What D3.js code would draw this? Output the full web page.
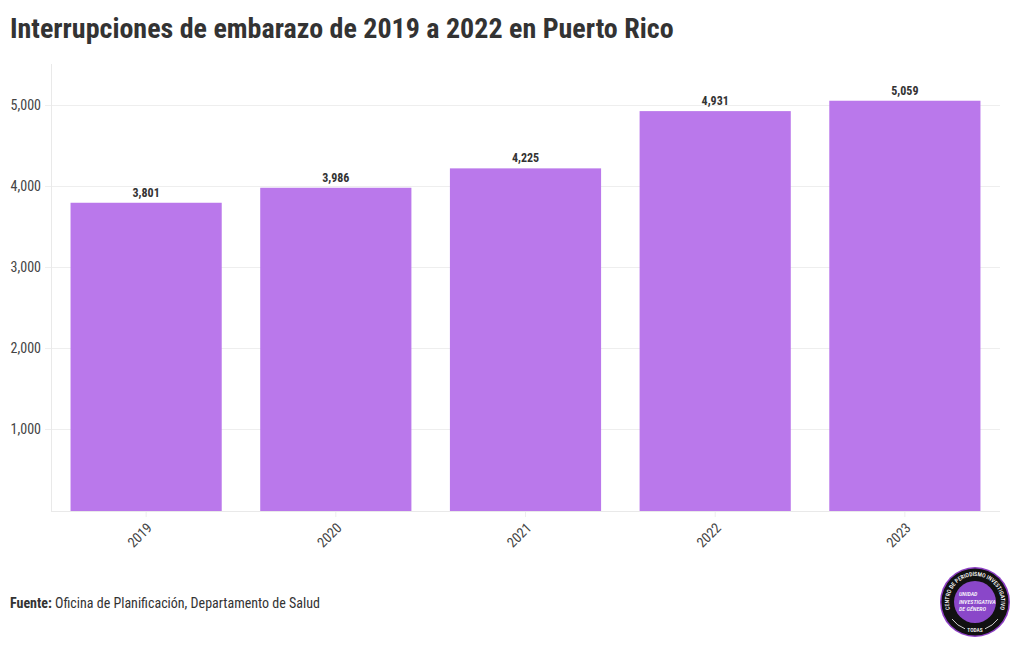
<!DOCTYPE html>
<html lang="es">
<head>
<meta charset="utf-8">
<title>Interrupciones de embarazo</title>
<script src="https://d3js.org/d3.v7.min.js"></script>
<style>
  html, body { margin: 0; background: #fff; }
  text { font-family: Roboto, sans-serif; font-stretch: condensed; }
</style>
</head>
<body>
<div id="chart"></div>
<script>
const years = ["2019", "2020", "2021", "2022", "2023"];
const abortions = [3801, 3986, 4225, 4931, 5059];
const yTicks = [1000, 2000, 3000, 4000, 5000];

const w = 1020, h = 650;
const svg = d3.select("#chart").append("svg").attr("width", w).attr("height", h).style("display", "block");

const x = d3.scaleBand().domain(years).range([51, 1000]).paddingInner(0.203).paddingOuter(0.103);
const y = d3.scaleLinear().domain([0, 5512]).range([511, 64]);
const fmt = d3.format(",");

svg.append("text").attr("x", 10).attr("y", 38)
  .attr("font-size", 28).attr("font-weight", 700).attr("fill", "#333")
  .text("Interrupciones de embarazo de 2019 a 2022 en Puerto Rico");

// grid
svg.append("g").selectAll("line").data(yTicks).join("line")
  .attr("x1", 45).attr("x2", 1000)
  .attr("y1", d => Math.floor(y(d)) + 0.5).attr("y2", d => Math.floor(y(d)) + 0.5)
  .attr("stroke", "#eee");
svg.append("line").attr("x1", 51.5).attr("x2", 51.5).attr("y1", 64).attr("y2", 511).attr("stroke", "#e9e9e9");
svg.append("line").attr("x1", 51).attr("x2", 1000).attr("y1", 511.5).attr("y2", 511.5).attr("stroke", "#e9e9e9");

svg.append("g").selectAll("text").data(yTicks).join("text")
  .attr("x", 41).attr("y", d => y(d) + 4.5)
  .attr("text-anchor", "end").attr("font-size", 14).attr("fill", "#444")
  .text(fmt);

// bars
svg.append("g").selectAll("rect").data(abortions).join("rect")
  .attr("x", (d, i) => x(years[i])).attr("width", x.bandwidth())
  .attr("y", d => y(d)).attr("height", d => y(0) - y(d))
  .attr("fill", "#ba78eb");

svg.append("g").selectAll("text").data(abortions).join("text")
  .attr("x", (d, i) => x(years[i]) + x.bandwidth() / 2).attr("y", d => y(d) - 6)
  .attr("text-anchor", "middle").attr("font-size", 12).attr("font-weight", 700).attr("fill", "#333")
  .text(fmt);

// x axis
svg.append("g").selectAll("line").data(years).join("line")
  .attr("x1", d => x(d) + x.bandwidth() / 2).attr("x2", d => x(d) + x.bandwidth() / 2)
  .attr("y1", 512).attr("y2", 517).attr("stroke", "#eee");
svg.append("g").selectAll("text").data(years).join("text")
  .attr("text-anchor", "middle").attr("font-size", 14).attr("fill", "#444")
  .attr("transform", d => `translate(${x(d) + x.bandwidth() / 2 - 6.5},535) rotate(-45)`)
  .attr("dy", 5).text(d => d);

// source
const src = svg.append("text").attr("x", 10).attr("y", 608).attr("font-size", 14).attr("fill", "#333");
src.append("tspan").attr("font-weight", 700).text("Fuente: ");
src.append("tspan").text("Oficina de Planificación, Departamento de Salud");

// logo
const logo = svg.append("g").attr("transform", "translate(975,602)");
logo.append("circle").attr("r", 35).attr("fill", "#8d3fc4");
logo.append("circle").attr("r", 33.5).attr("fill", "#111");
logo.append("circle").attr("r", 21).attr("fill", "#8a47c9");
logo.append("path").attr("id", "logoTop").attr("d", "M-24,10 A26,26 0 1 1 24,10").attr("fill", "none");
logo.append("text").attr("font-size", 5.8).attr("font-weight", 500).attr("fill", "#fff")
  .append("textPath").attr("href", "#logoTop").attr("startOffset", "50%").attr("text-anchor", "middle")
  .text("CENTRO DE PERIODISMO INVESTIGATIVO");
logo.selectAll("text.unit").data(["UNIDAD", "INVESTIGATIVA", "DE GÉNERO"]).join("text").attr("class", "unit")
  .attr("x", -16).attr("y", (d, i) => -6 + i * 7.5)
  .attr("font-size", 6).attr("font-weight", 500).attr("font-style", "italic").attr("fill", "#fff").text(d => d);
logo.append("text").attr("y", 30).attr("text-anchor", "middle").attr("font-size", 5.5).attr("font-weight", 500).attr("fill", "#fff").text("TODAS");
logo.append("path").attr("d", "M-23,17 A28.6,28.6 0 0 0 -10,26.8 M10,26.8 A28.6,28.6 0 0 0 23,17").attr("fill", "none").attr("stroke", "#fff").attr("stroke-width", 0.8);
</script>
</body>
</html>
